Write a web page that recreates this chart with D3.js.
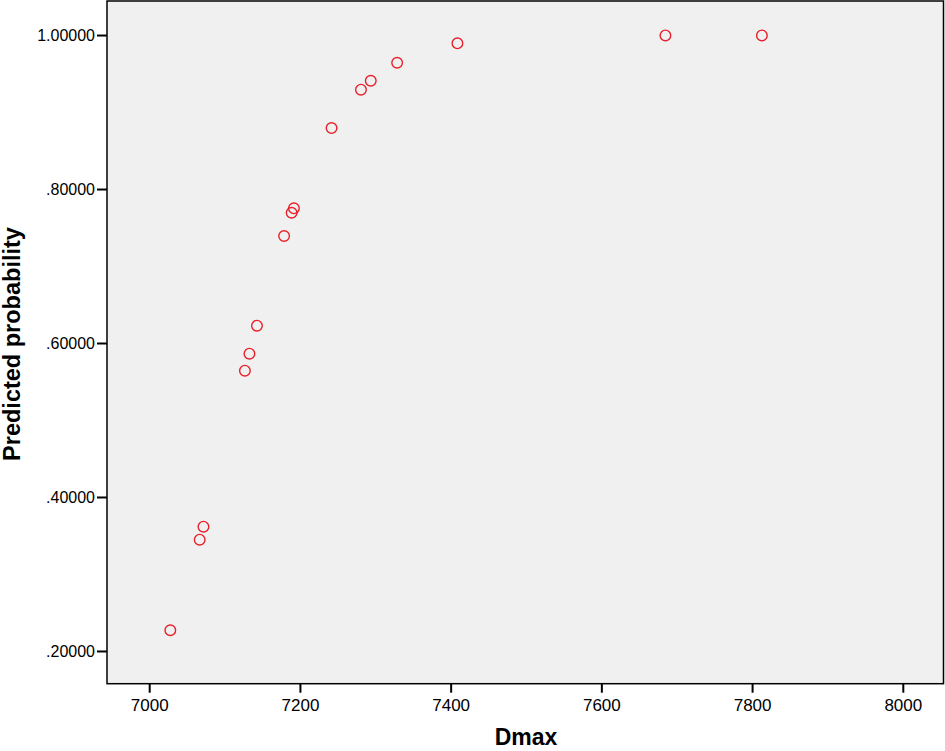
<!DOCTYPE html>
<html><head><meta charset="utf-8">
<script src="https://cdn.jsdelivr.net/npm/d3@7"></script>
<style>
html,body{margin:0;padding:0;background:#fff;}
svg{display:block;font-family:"Liberation Sans",Arial,sans-serif;}
</style></head>
<body>
<script>
const dmax = [7028, 7067, 7072, 7127, 7133, 7143, 7179, 7189, 7192, 7242, 7281, 7294, 7329, 7409, 7685, 7813];
const prob = [0.2269, 0.3445, 0.3614, 0.5640, 0.5861, 0.6225, 0.7390, 0.7692, 0.7749, 0.8792, 0.9290, 0.9406, 0.9640, 0.9892, 0.9995, 0.9995];
const xTicks = [7000, 7200, 7400, 7600, 7800, 8000];
const yTicks = [0.2, 0.4, 0.6, 0.8, 1.0];
const xTitle = "Dmax";
const yTitle = "Predicted probability";

const W = 945, H = 751;
const L = 107, R = 943.5, T = 1, B = 683.7;
const svg = d3.select("body").append("svg").attr("width", W).attr("height", H);

const x = d3.scaleLinear().domain([6944, 8054]).range([L, R]);
const y = d3.scaleLinear().domain([0.1575, 1.0442]).range([B, T]);

svg.append("rect").attr("x", L).attr("y", T).attr("width", R - L).attr("height", B - T)
  .attr("fill", "#f0f0f0").attr("stroke", "#000").attr("stroke-width", 1.5);

const xAxis = svg.append("g").attr("transform", `translate(0,${B})`)
  .call(d3.axisBottom(x).tickValues(xTicks).tickSize(9).tickPadding(6).tickFormat(d3.format("d")));
const yAxis = svg.append("g").attr("transform", `translate(${L},0)`)
  .call(d3.axisLeft(y).tickValues(yTicks).tickSize(10).tickPadding(2)
    .tickFormat(d => d === 1 ? "1.00000" : d3.format(".5f")(d).replace(/^0/, "")));
[xAxis, yAxis].forEach(g => {
  g.select(".domain").remove();
  g.selectAll(".tick line").attr("stroke", "#000").attr("stroke-width", 2);
  g.selectAll(".tick text").attr("fill", "#000")
    .style("font-family", '"Liberation Sans",Arial,sans-serif');
});
xAxis.selectAll(".tick text").style("font-size", "17px");
yAxis.selectAll(".tick text").style("font-size", "16px");

svg.append("g").selectAll("circle").data(dmax).join("circle")
  .attr("cx", d => x(d)).attr("cy", (d, i) => y(prob[i])).attr("r", 5.3)
  .attr("fill", "none").attr("stroke", "#e8202a").attr("stroke-width", 1.4);

svg.append("text").attr("x", 526).attr("y", 745).attr("text-anchor", "middle")
  .style("font-size", "23px").style("font-weight", "bold").text(xTitle);
svg.append("text").attr("transform", "translate(20,344) rotate(-90)").attr("text-anchor", "middle")
  .style("font-size", "23.5px").style("font-weight", "bold").text(yTitle);
</script>
</body></html>
